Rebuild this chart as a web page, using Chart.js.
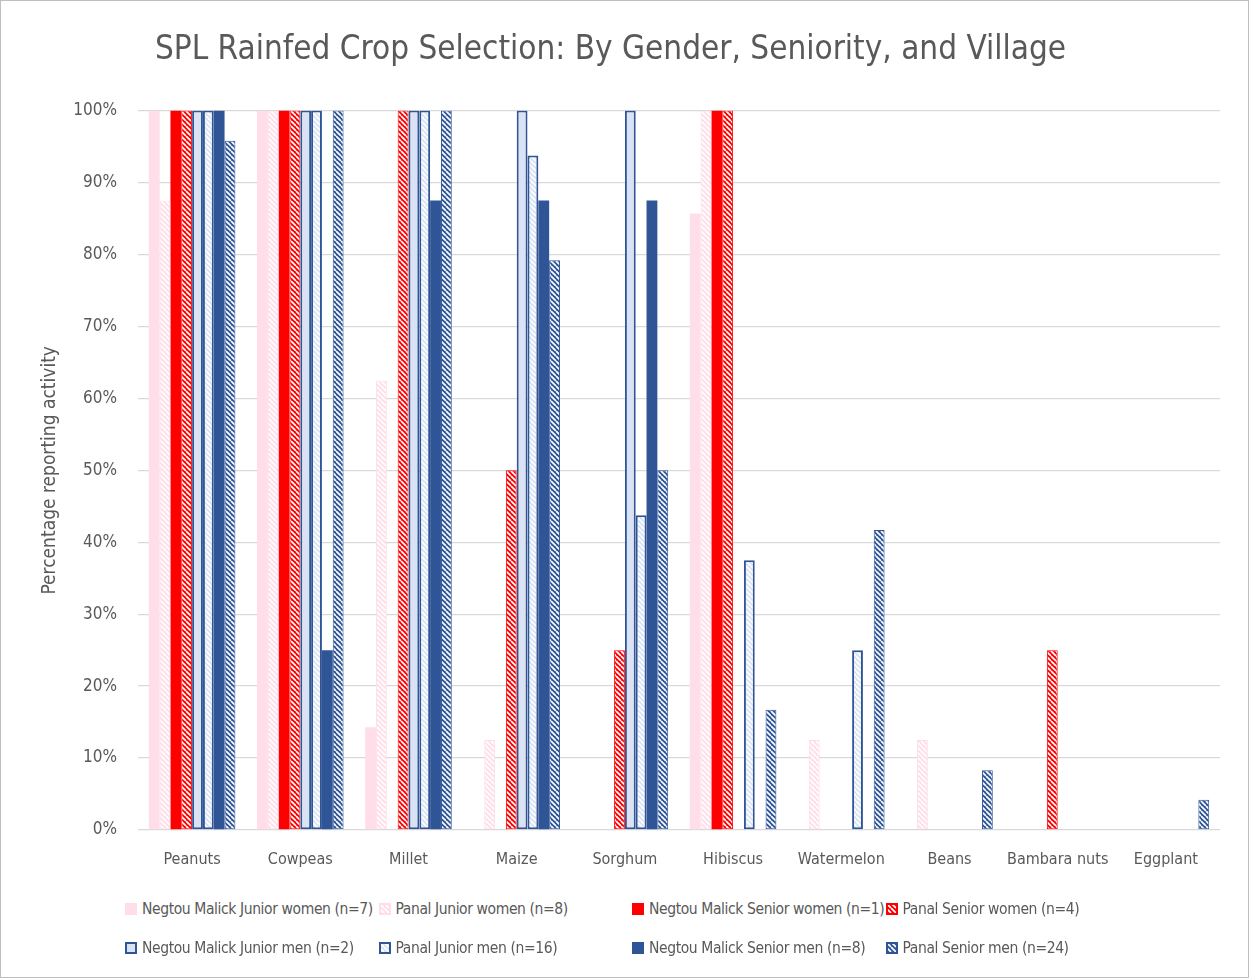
<!DOCTYPE html>
<html>
<head>
<meta charset="utf-8">
<script src="https://cdn.jsdelivr.net/npm/chart.js@4.4.1/dist/chart.umd.min.js"></script>
<style>
  html, body { margin: 0; padding: 0; background: #fff; }
  #wrap { position: relative; width: 1249px; height: 978px; box-sizing: border-box; border: 1px solid #bfbfbf; overflow: hidden; }
  #cropChart { position: absolute; left: 0; top: 0; }
  #legend { position: absolute; left: 124px; top: 897px; display: grid; grid-template-columns: repeat(4, 253.5px); row-gap: 17px;
    font-family: 'DejaVu Sans Condensed', sans-serif; font-size: 15.5px; letter-spacing: -0.4px; color: #595959; }
  #legend .item { display: flex; align-items: center; white-space: nowrap; height: 22px; }
  #legend canvas { margin-right: 5px; }
</style>
</head>
<body>
<div id="wrap">
  <canvas id="cropChart" width="1247" height="890"></canvas>
  <div id="legend"></div>
</div>
<script>
document.addEventListener("DOMContentLoaded", () => {

    // Chart data (percentage of respondents)
    const categories = ['Peanuts', 'Cowpeas', 'Millet', 'Maize', 'Sorghum', 'Hibiscus', 'Watermelon', 'Beans', 'Bambara nuts', 'Eggplant'];
    const nmJuniorWomen    = [100, 100, 14.3, 0, 0, 85.7, 0, 0, 0, 0];
    const panalJuniorWomen = [87.5, 100, 62.5, 12.5, 0, 100, 12.5, 12.5, 0, 0];
    const nmSeniorWomen    = [100, 100, 0, 0, 0, 100, 0, 0, 0, 0];
    const panalSeniorWomen = [100, 100, 100, 50, 25, 100, 0, 0, 25, 0];
    const nmJuniorMen      = [100, 100, 100, 100, 100, 0, 0, 0, 0, 0];
    const panalJuniorMen   = [100, 100, 100, 93.75, 43.75, 37.5, 25, 0, 0, 0];
    const nmSeniorMen      = [100, 25, 87.5, 87.5, 87.5, 0, 0, 0, 0, 0];
    const panalSeniorMen   = [95.8, 100, 100, 79.2, 50, 16.7, 41.7, 8.3, 0, 4.2];
    const yTicks = [0, 10, 20, 30, 40, 50, 60, 70, 80, 90, 100];

    const FONT = "'DejaVu Sans Condensed', sans-serif";
    const TEXT = '#595959';
    const PINK = '#ffdde9';
    const RED = '#ff0000';
    const LIGHTBLUE = '#dae3f3';
    const BLUE = '#2f5597';

    // white diagonal hatch on a coloured ground
    function hatch(bg) {
        const size = 5;
        const c = document.createElement('canvas');
        c.width = c.height = size;
        const x = c.getContext('2d');
        x.fillStyle = bg;
        x.fillRect(0, 0, size, size);
        x.strokeStyle = '#ffffff';
        x.lineWidth = 1.7;
        x.beginPath();
        for (let k = -size; k <= size; k += size) {
            x.moveTo(k, 0);
            x.lineTo(k + size, size);
        }
        x.stroke();
        return x.createPattern(c, 'repeat');
    }

    const series = [
        { label: 'Negtou Malick Junior women (n=7)', data: nmJuniorWomen, fill: PINK, border: PINK, bw: 0 },
        { label: 'Panal Junior women (n=8)', data: panalJuniorWomen, fill: hatch(PINK), border: PINK, bw: 1 },
        { label: 'Negtou Malick Senior women (n=1)', data: nmSeniorWomen, fill: RED, border: RED, bw: 0 },
        { label: 'Panal Senior women (n=4)', data: panalSeniorWomen, fill: hatch(RED), border: RED, bw: 1 },
        { label: 'Negtou Malick Junior men (n=2)', data: nmJuniorMen, fill: LIGHTBLUE, border: BLUE, bw: 2 },
        { label: 'Panal Junior men (n=16)', data: panalJuniorMen, fill: hatch(LIGHTBLUE), border: BLUE, bw: 2 },
        { label: 'Negtou Malick Senior men (n=8)', data: nmSeniorMen, fill: BLUE, border: BLUE, bw: 0 },
        { label: 'Panal Senior men (n=24)', data: panalSeniorMen, fill: hatch(BLUE), border: BLUE, bw: 1 }
    ];

    const chart = new Chart(document.getElementById('cropChart'), {
        type: 'bar',
        data: {
            labels: categories,
            datasets: series.map(s => ({
                label: s.label,
                data: s.data,
                backgroundColor: s.fill,
                borderColor: s.border,
                borderWidth: s.bw,
                borderSkipped: false,
                categoryPercentage: 0.8,
                barPercentage: 1
            }))
        },
        options: {
            responsive: false,
            animation: false,
            layout: { padding: { left: 0, right: 28, top: 0, bottom: 0 } },
            plugins: {
                legend: { display: false },
                tooltip: { enabled: false },
                title: {
                    display: true,
                    text: 'SPL Rainfed Crop Selection: By Gender, Seniority, and Village',
                    color: TEXT,
                    font: { family: FONT, size: 33, weight: 'normal' },
                    padding: { top: 30, bottom: 40 }
                }
            },
            scales: {
                x: {
                    grid: { display: false, drawTicks: false },
                    border: { display: false },
                    ticks: { color: TEXT, padding: 20, maxRotation: 0, autoSkip: false, font: { family: FONT, size: 16 } },
                    afterFit: (scale) => { scale.height = 61; }
                },
                y: {
                    min: 0,
                    max: 100,
                    afterBuildTicks: (scale) => { scale.ticks = yTicks.map(v => ({ value: v })); },
                    grid: { color: '#d9d9d9', lineWidth: 1.3, drawTicks: false },
                    border: { display: false },
                    ticks: { color: TEXT, padding: 21, font: { family: FONT, size: 17 }, callback: (v) => v + '%' },
                    title: {
                        display: true,
                        text: 'Percentage reporting activity',
                        color: TEXT,
                        font: { family: FONT, size: 19 },
                        padding: { top: 38, bottom: 0 }
                    },
                    afterFit: (scale) => { scale.width = 137; }
                }
            }
        }
    });

    // HTML legend in a 4-column grid like the original
    const legendBox = document.getElementById('legend');
    chart.data.datasets.forEach((ds) => {
        const item = document.createElement('div');
        item.className = 'item';
        const sw = document.createElement('canvas');
        sw.width = 12;
        sw.height = 12;
        const sx = sw.getContext('2d');
        sx.fillStyle = ds.borderWidth ? ds.borderColor : ds.backgroundColor;
        sx.fillRect(0, 0, 12, 12);
        const b = ds.borderWidth ? 2 : 0;
        sx.fillStyle = ds.backgroundColor;
        sx.fillRect(b, b, 12 - 2 * b, 12 - 2 * b);
        const txt = document.createElement('span');
        txt.textContent = ds.label;
        item.appendChild(sw);
        item.appendChild(txt);
        legendBox.appendChild(item);
    });
});
</script>
</body>
</html>
